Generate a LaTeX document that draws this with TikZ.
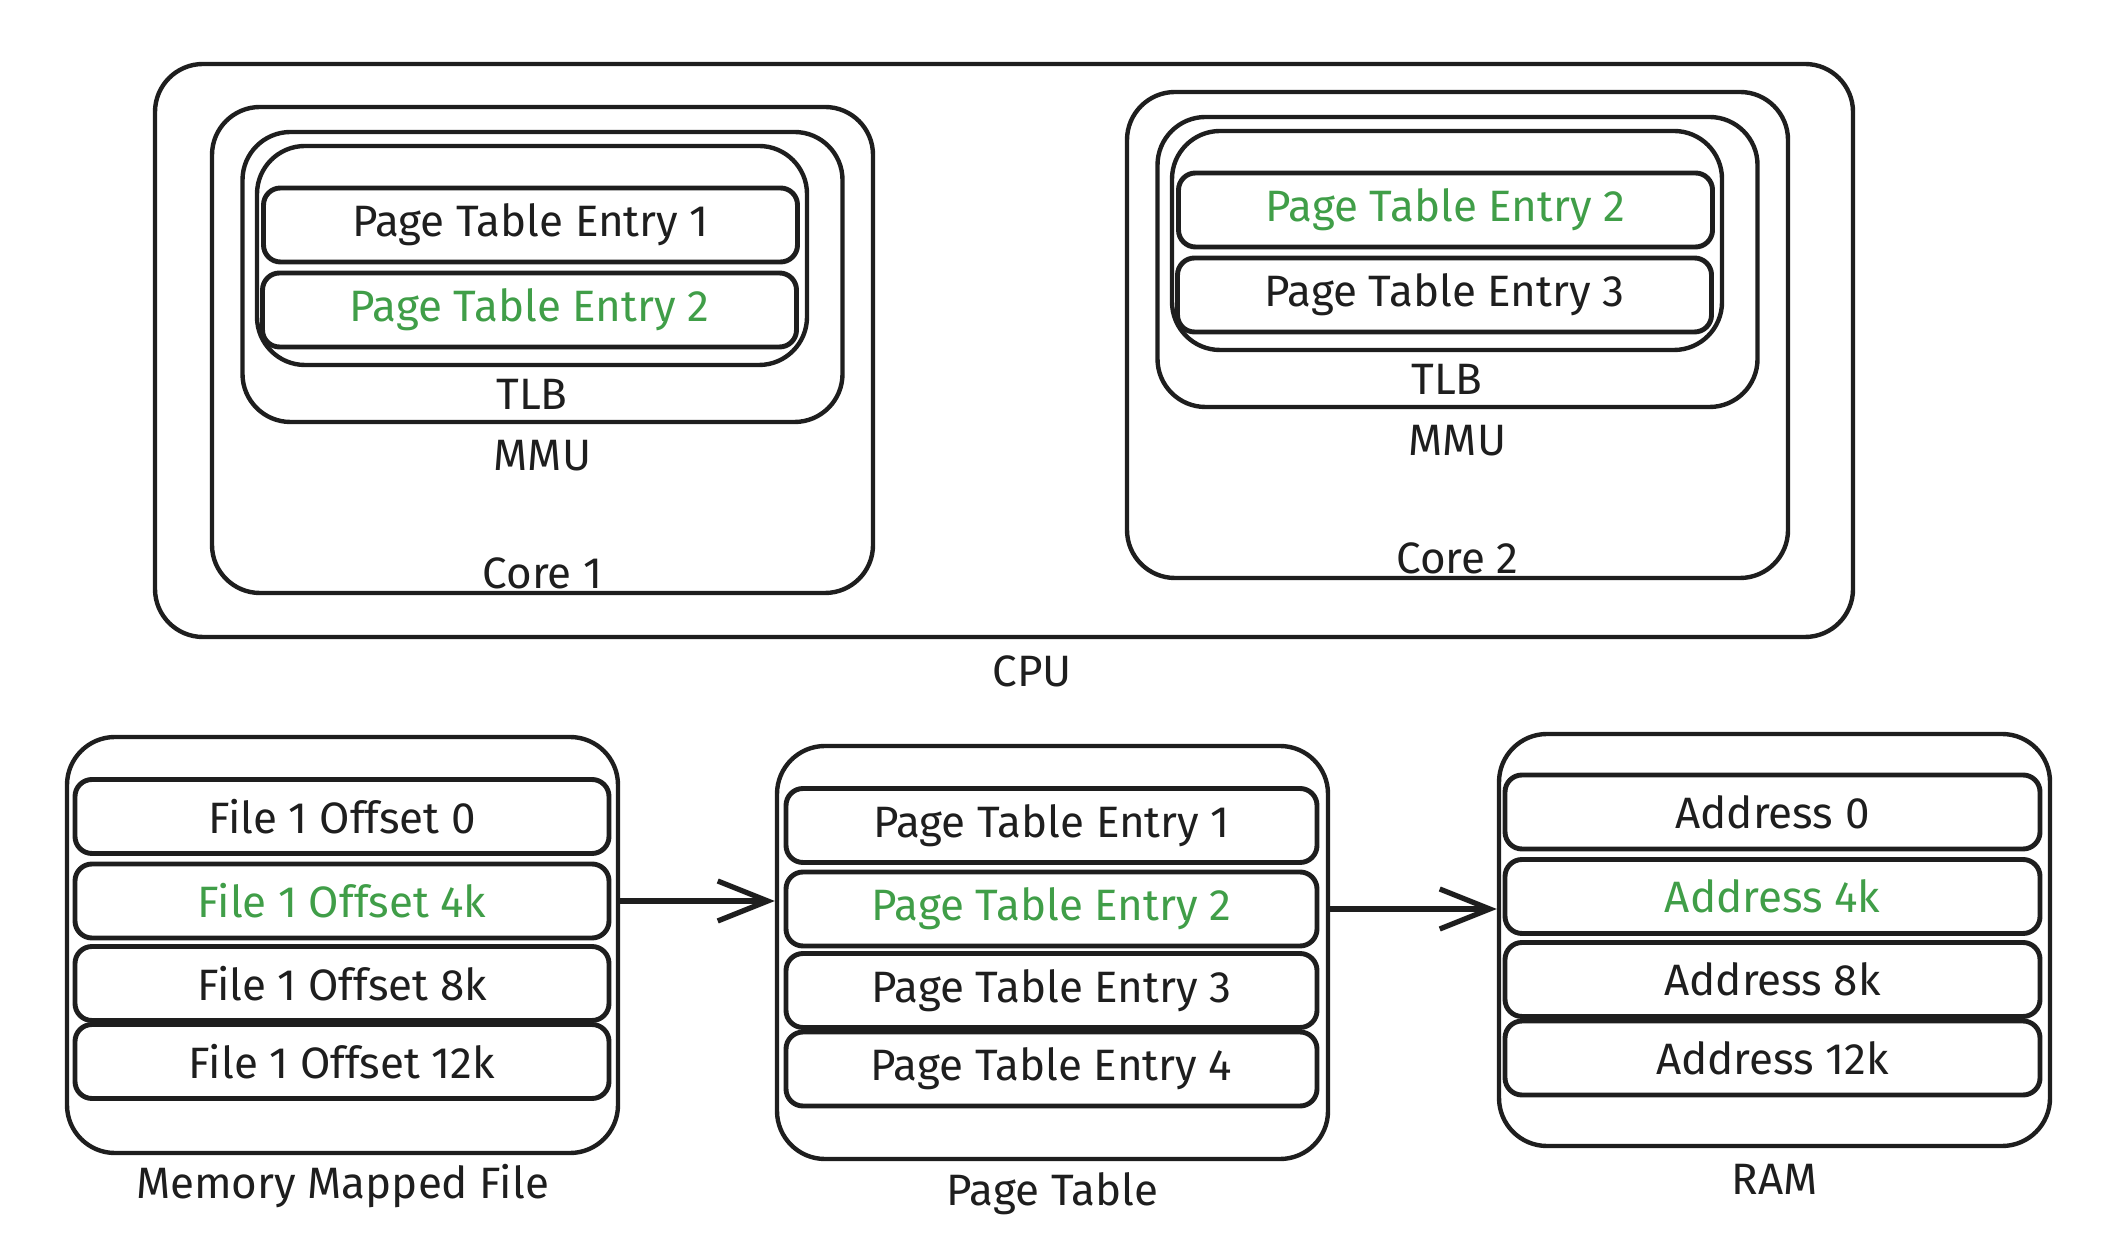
\documentclass[tikz,border=0pt]{standalone}
\usepackage{fontspec}
\setmainfont{Fira Sans}
\usetikzlibrary{arrows.meta, positioning}

\definecolor{inkblack}{RGB}{30,30,30}
\definecolor{hitgreen}{RGB}{64,158,72}

\begin{document}
\begin{tikzpicture}[
    box/.style={draw=inkblack, line width=1.25pt, rounded corners=0.48cm},
    entry/.style={draw=inkblack, line width=1.4pt, rounded corners=0.17cm,
                  minimum width=5.34cm, minimum height=0.74cm,
                  font=\fontsize{12.5}{15}\selectfont},
    lbl/.style={font=\fontsize{12.5}{15}\selectfont, text=inkblack, inner sep=0pt},
    myarrow/.style={-{Straight Barb[length=5mm, width=4mm]}, line width=1.5pt, draw=inkblack},
]

\useasboundingbox (0,0) rectangle (21.08,12.5);

% ===================== CPU =====================
\node[box, minimum width=16.98cm, minimum height=5.73cm] (cpu) at (10.04, 8.995) {};
\node[lbl] at ([xshift=0.28cm, yshift=-0.32cm]cpu.south) {CPU};

% ===================== CORES =====================
% Each core: MMU box, TLB box inside it, two cached entries
\foreach \c/\x/\y/\ea/\eb/\colA/\colB in {1/5.425/9.00/1/2/inkblack/hitgreen,
                                          2/14.575/9.15/2/3/hitgreen/inkblack} {

    % Core box
    \node[box, minimum width=6.61cm, minimum height=4.86cm] (core\c) at (\x, \y) {};
    \node[lbl] at ([yshift=0.22cm]core\c.south) {Core \c};

    % MMU
    \node[box, minimum width=6cm, minimum height=2.9cm] (mmu\c) at (\x, \y+0.73) {};
    \node[lbl] at ([yshift=-0.31cm]mmu\c.south) {MMU};

    % TLB
    \node[box, minimum width=5.5cm, minimum height=2.19cm] (tlb\c) at (\x-0.105, \y+0.945) {};
    \node[lbl] at ([yshift=-0.27cm]tlb\c.south) {TLB};

    % cached entries
    \node[entry, text=\colA] (pte\c1) at (\x-0.12, \y+1.25) {Page Table Entry \ea};
    \node[entry, text=\colB] (pte\c2) at (\x-0.13, \y+0.40) {Page Table Entry \eb};
}

% ===================== MEMORY MAPPED FILE =====================
\node[box, minimum width=5.51cm, minimum height=4.16cm] (mmf) at (3.425, 3.05) {};
\node[lbl] at ([yshift=-0.31cm]mmf.south) {Memory Mapped File};

\foreach \i/\y/\off/\col in {1/4.335/0/inkblack, 2/3.49/4k/hitgreen,
                             3/2.665/8k/inkblack, 4/1.885/12k/inkblack} {
    \node[entry, text=\col] (mmf\i) at (3.42, \y) {File 1 Offset \off};
}

% ===================== PAGE TABLE =====================
\node[box, minimum width=5.51cm, minimum height=4.13cm] (pt) at (10.525, 2.975) {};
\node[lbl] at ([yshift=-0.33cm]pt.south) {Page Table};

\foreach \i/\y/\col in {1/4.245/inkblack, 2/3.41/hitgreen,
                        3/2.595/inkblack, 4/1.81/inkblack} {
    \node[entry, minimum width=5.31cm, text=\col] (pt\i) at (10.515, \y) {Page Table Entry \i};
}

% ===================== RAM =====================
\node[box, minimum width=5.51cm, minimum height=4.12cm] (ram) at (17.745, 3.10) {};
\node[lbl] at ([yshift=-0.31cm]ram.south) {RAM};

\foreach \i/\y/\addr/\col in {1/4.38/0/inkblack, 2/3.535/4k/hitgreen,
                              3/2.705/8k/inkblack, 4/1.92/12k/inkblack} {
    \node[entry, minimum width=5.35cm, text=\col] (ram\i) at (17.725, \y) {Address \addr};
}

% ===================== LOOKUP ARROWS =====================
\draw[myarrow] (mmf.east |- mmf2.center) -- (pt.west |- mmf2.center);
\draw[myarrow] (pt.east |- pt2.center) -- (ram.west |- pt2.center);

\end{tikzpicture}
\end{document}
